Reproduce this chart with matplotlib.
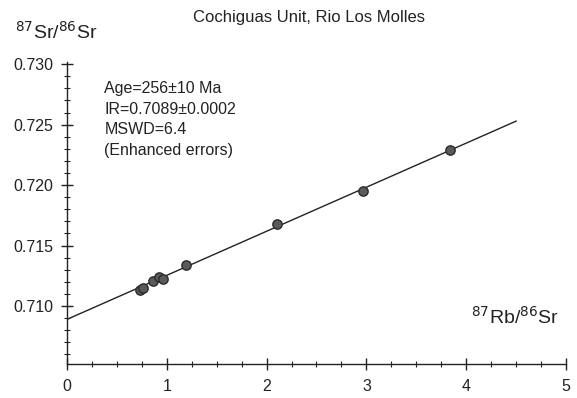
import numpy as np
import matplotlib
matplotlib.use("Agg")
import matplotlib.pyplot as plt
from matplotlib.ticker import MultipleLocator, FormatStrFormatter

plt.rcParams['font.family'] = ['Liberation Sans', 'DejaVu Sans']

# samples
rb_sr = [0.73, 0.76, 0.86, 0.92, 0.96, 1.19, 2.10, 2.97, 3.84]
sr_sr = [0.7113, 0.7115, 0.7121, 0.7124, 0.7122, 0.7134, 0.7168, 0.7195, 0.7229]

# isochron fit
intercept = 0.7089
slope = 0.003642
line_x = [0.0, 4.5]

title = "Cochiguas Unit, Rio Los Molles"
info = "Age=256\u00b110 Ma\nIR=0.7089\u00b10.0002\nMSWD=6.4\n(Enhanced errors)"

fig = plt.figure(figsize=(5.77, 3.98), dpi=100)
ax = fig.add_axes([0.116, 0.085, 0.865, 0.76])

lx = np.array(line_x)
ax.plot(lx, intercept + slope * lx, color='#222222', lw=1.0, zorder=2)
ax.scatter(rb_sr, sr_sr, s=45, color='#5a5a5a', edgecolor='#2a2a2a',
           linewidth=1.0, zorder=3)

ax.set_xlim(0, 5)
ax.set_ylim(0.7052, 0.7302)
ax.spines['top'].set_visible(False)
ax.spines['right'].set_visible(False)
for s in ('left', 'bottom'):
    ax.spines[s].set_linewidth(1.0)
    ax.spines[s].set_color('#222222')

ax.xaxis.set_major_locator(MultipleLocator(1))
ax.xaxis.set_minor_locator(MultipleLocator(0.25))
ax.yaxis.set_major_locator(MultipleLocator(0.005))
ax.yaxis.set_minor_locator(MultipleLocator(0.001))
ax.yaxis.set_major_formatter(FormatStrFormatter('%.3f'))
ax.set_yticks([0.710, 0.715, 0.720, 0.725, 0.730])

ax.tick_params(which='major', direction='inout', length=8, width=1.0,
               colors='#222222', labelsize=11.5)
ax.tick_params(which='minor', direction='inout', length=5, width=0.8,
               colors='#222222')
ax.tick_params(axis='x', pad=7)
ax.tick_params(axis='y', pad=6)

fig.text(0.535, 0.955, title, ha='center', va='center', fontsize=12,
         color='#222222')
fig.text(0.026, 0.92, r'$^{87}$Sr/$^{86}$Sr', ha='left', va='center',
         fontsize=14, color='#222222')
ax.text(0.985, 0.155, r'$^{87}$Rb/$^{86}$Sr', transform=ax.transAxes,
        ha='right', va='center', fontsize=14, color='#222222')
ax.text(0.075, 0.935, info, transform=ax.transAxes, ha='left', va='top',
        fontsize=11.5, linespacing=1.45, color='#222222')

fig.savefig('out.png', dpi=100)
